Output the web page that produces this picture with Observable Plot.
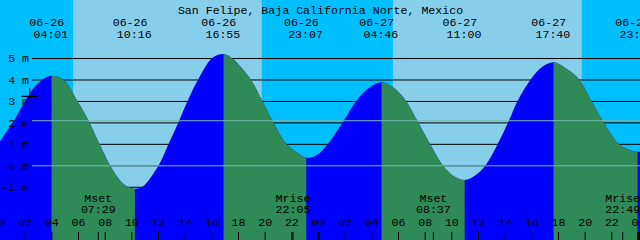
<!DOCTYPE html>
<html><head><meta charset="utf-8">
<script src="https://cdn.jsdelivr.net/npm/d3@7"></script>
<script src="https://cdn.jsdelivr.net/npm/@observablehq/plot@0.6"></script>
<style>html,body{margin:0;padding:0;background:#fff}#chart svg{display:block}</style>
</head><body><div id="chart"></div>
<script>
const title = "San Felipe, Baja California Norte, Mexico";
const domainTimes = ["2024-06-26T00:09Z", "2024-06-28T00:09Z"];
const levelDomain = [-3.483, 7.706];
const gridLevels = [5, 4, 3, 2, 1, 0, -1];
const datumLevels = [0, 2.10];

// tide curve readings (time, metres)
const curveTimes = [
  "2024-06-26T00:09Z","2024-06-26T00:39Z","2024-06-26T01:09Z","2024-06-26T01:39Z","2024-06-26T02:09Z",
  "2024-06-26T02:39Z","2024-06-26T03:09Z","2024-06-26T03:39Z",
  "2024-06-26T04:54Z","2024-06-26T05:57Z","2024-06-26T06:46Z","2024-06-26T07:36Z","2024-06-26T08:24Z",
  "2024-06-26T09:10Z","2024-06-26T09:43Z",
  "2024-06-26T10:50Z","2024-06-26T12:03Z","2024-06-26T12:48Z","2024-06-26T13:36Z","2024-06-26T14:13Z",
  "2024-06-26T15:01Z","2024-06-26T16:04Z",
  "2024-06-26T17:32Z","2024-06-26T18:57Z","2024-06-26T19:49Z","2024-06-26T20:34Z","2024-06-26T21:37Z",
  "2024-06-26T22:22Z",
  "2024-06-26T23:56Z","2024-06-27T00:45Z","2024-06-27T01:57Z","2024-06-27T02:52Z","2024-06-27T03:49Z",
  "2024-06-27T05:41Z","2024-06-27T06:36Z","2024-06-27T07:25Z","2024-06-27T08:24Z","2024-06-27T09:21Z",
  "2024-06-27T10:10Z",
  "2024-06-27T11:50Z","2024-06-27T12:34Z","2024-06-27T13:29Z","2024-06-27T14:20Z","2024-06-27T14:58Z",
  "2024-06-27T15:57Z","2024-06-27T16:48Z",
  "2024-06-27T18:38Z","2024-06-27T19:35Z","2024-06-27T20:30Z","2024-06-27T21:20Z","2024-06-27T22:32Z",
  "2024-06-27T23:15Z",
  "2024-06-28T00:09Z"
];
const curveLevels = [
  1.10, 1.57, 2.03, 2.58, 3.12,
  3.59, 3.90, 4.10,
  4.00, 3.00, 2.10, 1.00, 0.00,
  -0.72, -1.00,
  -1.00, 0.00, 1.00, 2.10, 3.00,
  4.00, 5.00,
  5.00, 4.00, 3.00, 2.10, 1.00,
  0.62,
  0.48, 1.00, 2.10, 3.00, 3.60,
  3.62, 3.00, 2.10, 1.00, 0.00,
  -0.50,
  -0.45, 0.00, 1.00, 2.10, 3.00,
  4.00, 4.58,
  4.50, 4.00, 3.00, 2.10, 1.00,
  0.75,
  0.64
];

// high / low tides
const extremaTimes = [
  "2024-06-26T04:01Z","2024-06-26T10:16Z","2024-06-26T16:55Z","2024-06-26T23:07Z",
  "2024-06-27T04:46Z","2024-06-27T11:00Z","2024-06-27T17:40Z","2024-06-27T23:58Z"
];
const extremaLevels = [4.17, -1.09, 5.19, 0.35, 3.87, -0.69, 4.80, 0.63];
const extremaDates = ["06-26","06-26","06-26","06-26","06-27","06-27","06-27","06-27"];
const extremaLabels = ["04:01","10:16","16:55","23:07","04:46","11:00","17:40","23:58"];

// sun
const sunriseTimes = ["2024-06-26T05:38Z", "2024-06-27T05:37Z"];
const sunsetTimes  = ["2024-06-26T19:47Z", "2024-06-27T19:47Z"];

// moon
const moonTimes = ["2024-06-26T07:29Z","2024-06-26T22:05Z","2024-06-27T08:37Z","2024-06-27T22:49Z"];
const moonNames = ["Mset","Mrise","Mset","Mrise"];
const moonLabels = ["07:29","22:05","08:37","22:49"];

// current-time marker
const markerTime = "2024-06-26T02:20Z";
const markerLevel = 3.24;

const colors = {night: "#00BFFF", day: "#87CEEB", rise: "#0000FF", fall: "#2E8B57", datum: "#78BCB4", text: "#000000"};
const font = "'Liberation Mono', 'DejaVu Sans Mono', monospace";
const fs = 11.6;

// one continuous series; falling stretches are shown by clipping a second copy
const tide = curveTimes.map((t, i) => ({t: new Date(t), v: curveLevels[i]}))
  .concat(extremaTimes.map((t, i) => ({t: new Date(t), v: extremaLevels[i]})))
  .sort((a, b) => a.t - b.t);
const dom = domainTimes.map(d => new Date(d));
const bounds = [dom[0], ...extremaTimes.map(d => new Date(d)), dom[1]];
const boundLevels = [tide[0].v, ...extremaLevels, tide[tide.length - 1].v];
const fallIntervals = [];
for (let i = 0; i < bounds.length - 1; i++) {
  if (boundLevels[i + 1] < boundLevels[i]) fallIntervals.push([bounds[i], bounds[i + 1]]);
}

const extrema = extremaTimes.map((t, i) => ({t: new Date(t), date: extremaDates[i], time: extremaLabels[i]}));
const days = sunriseTimes.map((t, i) => ({x1: new Date(t), x2: new Date(sunsetTimes[i])}));
const moon = moonTimes.map((t, i) => ({t: new Date(t), name: moonNames[i], time: moonLabels[i]}));
const hourTicks = d3.utcHour.every(2).range(d3.utcDay.floor(dom[0]), new Date(+dom[1] + 1));
const dayTicks = d3.utcDay.range(d3.utcDay.ceil(dom[0]), new Date(+dom[1] + 1));
const fmtH = d3.utcFormat("%H");

const textOpts = {fontFamily: font, fontSize: fs, fill: colors.text};

const chart = Plot.plot({
  width: 640, height: 240, margin: 0,
  x: {type: "utc", domain: dom, axis: null},
  y: {domain: levelDomain, axis: null},
  style: {background: colors.night, fontFamily: font, fontSize: fs + "px", color: "#000"},
  marks: [
    Plot.rect(days, {x1: "x1", x2: "x2", fill: colors.day}),
    Plot.ruleY(gridLevels, {y: d => d, insetLeft: 32, stroke: "#000", strokeWidth: 1}),
    Plot.areaY(tide, {x: "t", y1: levelDomain[0], y2: "v", fill: colors.rise, curve: "catmull-rom"}),
    Plot.areaY(tide, {x: "t", y1: levelDomain[0], y2: "v", fill: colors.fall, curve: "catmull-rom"}),
    Plot.ruleY(datumLevels, {y: d => d, insetLeft: 32, stroke: colors.datum, strokeWidth: 1}),
    Plot.text(gridLevels, {y: d => d, text: d => `${d} m`, frameAnchor: "left", dx: 28.5, textAnchor: "end", ...textOpts}),
    Plot.dot([{t: new Date(markerTime), v: markerLevel}], {x: "t", y: "v", symbol: "plus", r: 5.3, stroke: "#000", strokeWidth: 1.2}),
    Plot.text([title], {text: d => d, frameAnchor: "top", dy: 5.5, ...textOpts}),
    Plot.text(extrema, {x: "t", text: "date", frameAnchor: "top", dy: 17.5, dx: -5.3, ...textOpts}),
    Plot.text(extrema, {x: "t", text: "time", frameAnchor: "top", dy: 29.5, dx: -1.2, ...textOpts}),
    Plot.text(moon, {x: "t", text: "name", frameAnchor: "bottom", dy: -39.0, ...textOpts}),
    Plot.text(moon, {x: "t", text: "time", frameAnchor: "bottom", dy: -27.3, ...textOpts}),
    Plot.text(hourTicks, {x: d => d, text: d => fmtH(d), frameAnchor: "bottom", dy: -14.5, ...textOpts}),
    Plot.ruleX(hourTicks, {x: d => d, insetTop: 232, stroke: "#000", strokeWidth: 1}),
    Plot.ruleX(moon, {x: "t", insetTop: 232, stroke: "#000", strokeWidth: 1}),
    Plot.ruleX(dayTicks, {x: d => d, insetTop: 232, stroke: "#000", strokeWidth: 2.5})
  ]
});

// clip the second (green) copy of the tide area to the falling stretches, using Plot's x scale
const xs = chart.scale("x");
const NS = "http://www.w3.org/2000/svg";
const defs = document.createElementNS(NS, "defs");
const clip = document.createElementNS(NS, "clipPath");
clip.setAttribute("id", "falling-clip");
clip.setAttribute("clipPathUnits", "userSpaceOnUse");
for (const [a, b] of fallIntervals) {
  const r = document.createElementNS(NS, "rect");
  const xa = xs.apply(a), xb = xs.apply(b);
  r.setAttribute("x", xa); r.setAttribute("width", xb - xa);
  r.setAttribute("y", -10); r.setAttribute("height", 260);
  clip.appendChild(r);
}
defs.appendChild(clip);
chart.insertBefore(defs, chart.firstChild);
const areaGroups = chart.querySelectorAll('g[aria-label="area"]');
areaGroups[1].setAttribute("clip-path", "url(#falling-clip)");

document.getElementById("chart").appendChild(chart);
</script>
</body></html>
